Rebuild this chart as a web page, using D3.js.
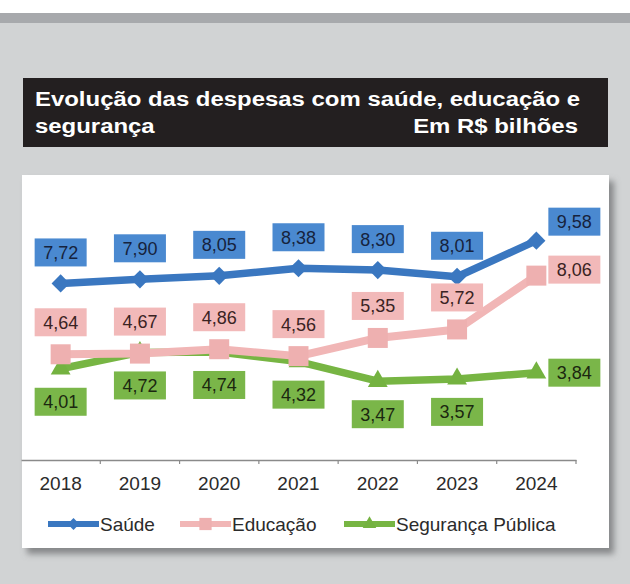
<!DOCTYPE html>
<html>
<head>
<meta charset="utf-8">
<script src="https://cdn.jsdelivr.net/npm/d3@7"></script>
<style>
body { margin: 0; background: #d1d3d4; }
svg { display: block; font-family: "Liberation Sans", Arial, Helvetica, sans-serif; }
</style>
</head>
<body>
<div id="chart"></div>
<script>
// dados (R$ bilhões)
var years = ["2018", "2019", "2020", "2021", "2022", "2023", "2024"];
var saude = [7.72, 7.90, 8.05, 8.38, 8.30, 8.01, 9.58];
var educacao = [4.64, 4.67, 4.86, 4.56, 5.35, 5.72, 8.06];
var seguranca = [4.01, 4.72, 4.74, 4.32, 3.47, 3.57, 3.84];
var series_names = ["Saúde", "Educação", "Segurança Pública"];

var title_line1 = "Evolução das despesas com saúde, educação e";
var title_line2 = "segurança";
var title_unit = "Em R$ bilhões";

var width = 630, height = 584;

var svg = d3.select("#chart")
    .append("svg")
    .attr("width", width)
    .attr("height", height);

var defs = svg.append("defs");
var shadow = defs.append("filter")
    .attr("id", "shadow")
    .attr("x", "-5%").attr("y", "-5%")
    .attr("width", "115%").attr("height", "115%");
shadow.append("feDropShadow")
    .attr("dx", 5).attr("dy", 6)
    .attr("stdDeviation", 3)
    .attr("flood-color", "#6d6e70")
    .attr("flood-opacity", 0.75);

// fundo da página
svg.append("rect").attr("width", width).attr("height", 13).attr("fill", "#ffffff");
svg.append("rect").attr("y", 13).attr("width", width).attr("height", 10).attr("fill", "#a7a9ac");
svg.append("rect").attr("y", 23).attr("width", width).attr("height", height - 23).attr("fill", "#d1d3d4");

// caixa do título
svg.append("rect")
    .attr("x", 23).attr("y", 78)
    .attr("width", 585).attr("height", 69)
    .attr("fill", "#231f20");

var title_g = svg.append("g")
    .attr("transform", "translate(35,0) scale(1.14,1)")
    .style("font-weight", "bold")
    .style("font-size", "21px")
    .attr("fill", "#ffffff");

title_g.append("text").attr("x", 0).attr("y", 106).text(title_line1);
title_g.append("text").attr("x", 0).attr("y", 133).text(title_line2);
title_g.append("text").attr("x", (578 - 35) / 1.14).attr("y", 133)
    .attr("text-anchor", "end").text(title_unit);

// painel do gráfico
svg.append("rect")
    .attr("x", 22).attr("y", 175)
    .attr("width", 587).attr("height", 373)
    .attr("fill", "#ffffff")
    .attr("filter", "url(#shadow)");

var axis_y = 460;

var xScale = d3.scaleBand()
    .domain(years)
    .range([21, 576]);

var yScale = d3.scaleLinear()
    .domain([0, 10])
    .range([461, 231]);

function cx(d, i) { return xScale(years[i]) + xScale.bandwidth() / 2; }

var xAxis = d3.axisBottom(xScale)
    .tickSize(0)
    .tickPadding(16.5);

var axis_g = svg.append("g")
    .attr("transform", "translate(0," + axis_y + ")")
    .call(xAxis);

axis_g.select(".domain")
    .attr("stroke", "#8a8a8a")
    .attr("stroke-width", 1.4);

axis_g.selectAll("text")
    .style("font-family", "\"Liberation Sans\", Arial, sans-serif")
    .style("font-size", "19px")
    .attr("fill", "#2b2b2b");

// marcas de divisão entre as categorias
axis_g.selectAll(".divider")
    .data(years.slice(1).concat(["end"]))
    .enter()
    .append("line")
    .attr("class", "divider")
    .attr("x1", function(d, i) { return xScale.range()[0] + xScale.step() * (i + 1); })
    .attr("x2", function(d, i) { return xScale.range()[0] + xScale.step() * (i + 1); })
    .attr("y1", 0).attr("y2", 4)
    .attr("stroke", "#8a8a8a")
    .attr("stroke-width", 1.2);

var series = [
    { name: series_names[0], values: saude, line: "#3a77c0", marker: "#3a77c0",
      box: "#4a89d0", ink: "#16233d", symbol: "diamond", side: -31, lift: -19 },
    { name: series_names[1], values: educacao, line: "#f1b6b6", marker: "#eeb0b0",
      box: "#f2b9b9", ink: "#3a2323", symbol: "square", side: -32, lift: -6 },
    { name: series_names[2], values: seguranca, line: "#77b543", marker: "#74b240",
      box: "#7ab649", ink: "#1b2810", symbol: "triangle", side: 33, lift: 0 }
];

function symbol_path(kind, big) {
    if (kind == "diamond") return d3.symbol().type(d3.symbolSquare).size(big ? 165 : 70)();
    if (kind == "square") return d3.symbol().type(d3.symbolSquare).size(big ? 400 : 150)();
    return d3.symbol().type(d3.symbolTriangle).size(big ? 170 : 80)();
}

var line = d3.line()
    .x(function(d, i) { return cx(d, i); })
    .y(function(d) { return yScale(d); });

// linhas: desenhar segurança, educação e saúde por cima
var order = [2, 1, 0];
order.forEach(function(k) {
    var s = series[k];
    var g = svg.append("g");
    g.append("path")
        .datum(s.values)
        .attr("d", line)
        .attr("fill", "none")
        .attr("stroke", s.line)
        .attr("stroke-width", s.symbol == "square" ? 8 : 7.5)
        .attr("stroke-linejoin", "round");
    g.selectAll(".marker")
        .data(s.values)
        .enter()
        .append("path")
        .attr("class", "marker")
        .attr("d", symbol_path(s.symbol, true))
        .attr("transform", function(d, i) {
            var t = "translate(" + cx(d, i) + "," + yScale(d) + ")";
            if (s.symbol == "diamond") t += " rotate(45)";
            return t;
        })
        .attr("fill", s.marker);
});

// rótulos de dados
var box_w = 52, box_h = 28;
series.forEach(function(s) {
    var last = s.values.length - 1;
    var g = svg.append("g");
    var labels = g.selectAll(".lbl")
        .data(s.values)
        .enter()
        .append("g")
        .attr("class", "lbl")
        .attr("transform", function(d, i) {
            var x = cx(d, i), y = yScale(d) + s.side;
            if (i == last) { x = cx(d, i) + 38; y = yScale(d) + s.lift; }
            return "translate(" + x + "," + y + ")";
        });
    labels.append("rect")
        .attr("x", -box_w / 2).attr("y", -box_h / 2)
        .attr("width", box_w).attr("height", box_h)
        .attr("fill", s.box);
    labels.append("text")
        .attr("text-anchor", "middle")
        .attr("dy", "0.36em")
        .style("font-size", "18px")
        .attr("fill", s.ink)
        .text(function(d) { return d.toFixed(2).replace(".", ","); });
});

// legenda
var legend_y = 524;
var legend_pos = [48, 180, 344];
series.forEach(function(s, k) {
    var g = svg.append("g").attr("transform", "translate(" + legend_pos[k] + "," + legend_y + ")");
    g.append("line")
        .attr("x1", 0).attr("x2", 51)
        .attr("stroke", s.line)
        .attr("stroke-width", 6);
    g.append("path")
        .attr("d", symbol_path(s.symbol, false))
        .attr("transform", "translate(25.5,0)" + (s.symbol == "diamond" ? " rotate(45)" : ""))
        .attr("fill", s.marker);
    g.append("text")
        .attr("x", 52)
        .attr("dy", "0.36em")
        .style("font-size", "19px")
        .attr("fill", "#2b2b2b")
        .text(s.name);
});
</script>
</body>
</html>
